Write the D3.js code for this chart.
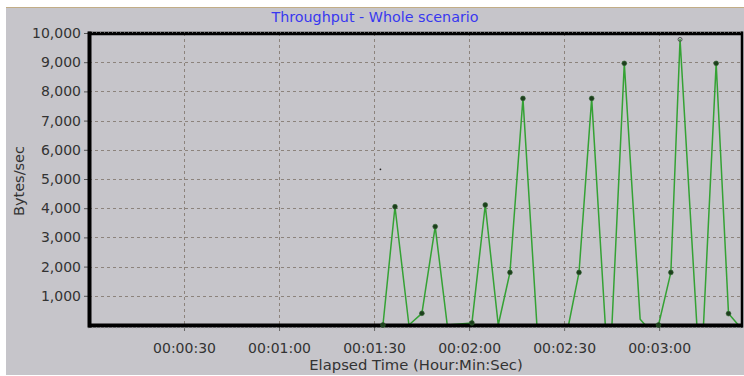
<!DOCTYPE html>
<html>
<head>
<meta charset="utf-8">
<script src="https://cdn.jsdelivr.net/npm/d3@7"></script>
<style>
  html, body { margin: 0; padding: 0; background: #ffffff; }
  svg { display: block; }
  text { font-family: "DejaVu Sans", sans-serif; }
</style>
</head>
<body>
<svg id="chart" width="744" height="376"></svg>
<script>
// ---- data ----
const titleText = "Throughput - Whole scenario";
const yLabel = "Bytes/sec";
const xLabel = "Elapsed Time (Hour:Min:Sec)";

// elapsed seconds of each sample
const times = [92.8, 96.6, 101.0, 105.1, 109.3, 113.1, 120.9, 125.1, 129.2, 132.9,
               137.0, 141.4, 151.4, 154.7, 158.7, 163.0, 165.1, 169.0, 174.0, 175.6,
               179.8, 183.7, 186.6, 191.9, 194.0, 198.0, 201.9, 205.0];
// throughput (bytes/sec)
const values = [0, 4050, 0, 400, 3370, 0, 70, 4110, 0, 1800,
                7760, 0, 0, 1800, 7760, 0, 0, 8960, 200, 0,
                0, 1800, 9780, 0, 0, 8960, 390, 0];
// 1 = sample drawn with a dot marker, 2 = selected (hollow) marker
const markers = [1, 1, 0, 1, 1, 0, 1, 1, 0, 1,
                 1, 0, 0, 1, 1, 0, 0, 1, 0, 0,
                 1, 1, 2, 0, 0, 1, 1, 0];
// stray single point seen in the plot
const strayTimes = [92.0];
const strayValues = [5330];

const xTickValues = [30, 60, 90, 120, 150, 180];
const xTickLabels = ["00:00:30", "00:01:00", "00:01:30", "00:02:00", "00:02:30", "00:03:00"];
const yTickValues = [1000, 2000, 3000, 4000, 5000, 6000, 7000, 8000, 9000, 10000];
const xDomain = [0, 206];
const yDomain = [0, 10000];

// ---- drawing ----
const svg = d3.select("#chart");
const W = 744, H = 376;
const plot = { left: 89, right: 741.5, top: 33, bottom: 325 };

svg.append("rect").attr("x", 0).attr("y", 0).attr("width", W).attr("height", H).attr("fill", "#ffffff");
svg.append("rect").attr("x", 6).attr("y", 7).attr("width", W - 6).attr("height", 368).attr("fill", "#c6c5ca");
svg.append("line").attr("x1", 6).attr("x2", W).attr("y1", 7.5).attr("y2", 7.5)
  .attr("stroke", "#c2ad86").attr("stroke-width", 1);

const x = d3.scaleLinear().domain(xDomain).range([plot.left, plot.right]);
const y = d3.scaleLinear().domain(yDomain).range([plot.bottom, plot.top]);

// title
svg.append("text").attr("x", 375).attr("y", 22).attr("text-anchor", "middle")
  .attr("font-size", 14.3).attr("fill", "#3838f0").text(titleText);

// gridlines
const grid = svg.append("g");
grid.selectAll("line.h").data(yTickValues.filter(v => v < yDomain[1])).enter().append("line")
  .attr("x1", plot.left).attr("x2", plot.right)
  .attr("y1", d => Math.round(y(d)) + 0.5).attr("y2", d => Math.round(y(d)) + 0.5)
  .attr("stroke", "#8c837c").attr("stroke-width", 1).attr("stroke-dasharray", "3,3");
grid.selectAll("line.v").data(xTickValues).enter().append("line")
  .attr("x1", d => Math.round(x(d)) + 0.5).attr("x2", d => Math.round(x(d)) + 0.5)
  .attr("y1", plot.top).attr("y2", plot.bottom)
  .attr("stroke", "#8c837c").attr("stroke-width", 1).attr("stroke-dasharray", "3,3");

// axes
const yAxis = d3.axisLeft(y).tickValues(yTickValues).tickSize(4).tickPadding(3)
  .tickFormat(d3.format(","));
const gy = svg.append("g").attr("transform", `translate(${plot.left - 1},0)`).call(yAxis);
gy.select(".domain").remove();
gy.selectAll(".tick line").attr("stroke", "#555");
gy.selectAll(".tick text").attr("font-size", 14).attr("fill", "#333")
  .attr("font-family", "DejaVu Sans, sans-serif");

const xAxis = d3.axisBottom(x).tickValues(xTickValues).tickSize(4).tickPadding(12)
  .tickFormat((d, i) => xTickLabels[i]);
const gx = svg.append("g").attr("transform", `translate(0,${plot.bottom + 2})`).call(xAxis);
gx.select(".domain").remove();
gx.selectAll(".tick line").attr("stroke", "#666");
gx.selectAll(".tick text").attr("font-size", 14).attr("fill", "#333")
  .attr("font-family", "DejaVu Sans, sans-serif");

// axis titles
svg.append("text").attr("transform", "translate(24,181) rotate(-90)")
  .attr("text-anchor", "middle").attr("font-size", 14.5).attr("fill", "#333").text(yLabel);
svg.append("text").attr("x", 416).attr("y", 370).attr("text-anchor", "middle")
  .attr("font-size", 14.8).attr("fill", "#333").text(xLabel);

// series line
const pts = times.map((t, i) => ({ t, v: values[i], m: markers[i] }));
const line = d3.line().x(d => x(d.t)).y(d => y(d.v));
svg.append("path").datum(pts).attr("d", line).attr("fill", "none")
  .attr("stroke", "#34a234").attr("stroke-width", 1.5).attr("stroke-linejoin", "round");

// frame
const frame = svg.append("g");
frame.append("line").attr("x1", plot.left - 1).attr("x2", plot.right + 1).attr("y1", plot.top + 0.5).attr("y2", plot.top + 0.5)
  .attr("stroke", "#000").attr("stroke-width", 3.5);
frame.append("line").attr("x1", plot.left - 1).attr("x2", plot.right + 1).attr("y1", plot.top - 0.8).attr("y2", plot.top - 0.8)
  .attr("stroke", "#9a9a9a").attr("stroke-width", 1).attr("stroke-dasharray", "1,3");
frame.append("line").attr("x1", plot.left - 1).attr("x2", plot.right + 1).attr("y1", plot.bottom + 0.5).attr("y2", plot.bottom + 0.5)
  .attr("stroke", "#000").attr("stroke-width", 4);
frame.append("line").attr("x1", plot.left - 1).attr("x2", plot.right + 1).attr("y1", plot.bottom + 2.8).attr("y2", plot.bottom + 2.8)
  .attr("stroke", "#9a9a9a").attr("stroke-width", 1).attr("stroke-dasharray", "1,3");
frame.append("line").attr("x1", plot.left + 0.5).attr("x2", plot.left + 0.5).attr("y1", plot.top - 1.5).attr("y2", plot.bottom + 2.5)
  .attr("stroke", "#000").attr("stroke-width", 4);
frame.append("line").attr("x1", plot.right + 0.5).attr("x2", plot.right + 0.5).attr("y1", plot.top - 1.5).attr("y2", plot.bottom + 2.5)
  .attr("stroke", "#000").attr("stroke-width", 2.5);

// markers
svg.append("g").selectAll("circle").data(pts.filter(d => d.m === 1)).enter().append("circle")
  .attr("cx", d => x(d.t)).attr("cy", d => y(d.v)).attr("r", 2.4)
  .attr("fill", "#1d3f1d").attr("stroke", "#2f5f2f").attr("stroke-width", 0.6);
svg.append("g").selectAll("circle").data(pts.filter(d => d.m === 2)).enter().append("circle")
  .attr("cx", d => x(d.t)).attr("cy", d => y(d.v)).attr("r", 2)
  .attr("fill", "none").attr("stroke", "#555").attr("stroke-width", 1);

// stray point
svg.append("g").selectAll("circle").data(strayTimes.map((t, i) => ({ t, v: strayValues[i] }))).enter()
  .append("circle").attr("cx", d => x(d.t)).attr("cy", d => y(d.v)).attr("r", 0.9).attr("fill", "#222");
</script>
</body>
</html>
